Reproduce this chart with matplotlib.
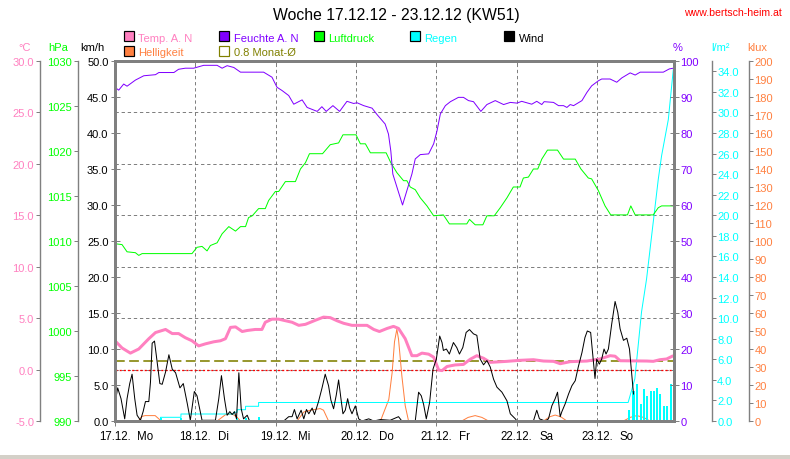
import matplotlib
matplotlib.use('Agg')
import matplotlib.pyplot as plt
import matplotlib.transforms as mtransforms
from matplotlib.patches import Rectangle

plt.rcParams['font.family'] = ['Liberation Sans', 'DejaVu Sans']
plt.rcParams['lines.scale_dashes'] = False

# ---------------- data (time in hours since 17.12. 00:00) ----------------
day_labels = ['17.12.', '18.12.', '19.12.', '20.12.', '21.12.', '22.12.', '23.12.']
weekday_labels = ['Mo', 'Di', 'Mi', 'Do', 'Fr', 'Sa', 'So']
day_hours = [0, 24, 48, 72, 96, 120, 144]

hum_h = [0, 1.1, 2.6, 3.6, 6.1, 8.6, 12.1, 13.1, 17.6, 19.0, 21.0, 23.5, 26.5, 30.5, 32.0, 33.5, 35.5,
         37.5, 44.4, 46.9, 48.4, 49.9, 51.9, 53.4, 55.9, 57.4, 60.4, 61.8, 63.1, 65.1, 67.1, 69.3, 71.3,
         72.3, 74.3, 76.8, 78.3, 80.7, 81.7, 82.4, 83.0, 85.9, 88.7, 89.7, 91.2, 93.7, 95.2, 96.2, 97.2,
         98.7, 100.2, 102.6, 104.1, 105.6, 107.1, 109.3, 111.1, 113.6, 116.1, 118.1, 120.1, 121.5, 124.5,
         126.0, 127.5, 128.2, 131.0, 132.5, 134.0, 135.0, 136.0, 137.0, 139.5, 141.0, 142.4, 144.4, 145.4,
         147.9, 149.9, 151.4, 153.9, 155.4, 156.9, 163.8, 165.6, 166.8]
hum = [92.7, 91.9, 93.6, 93.0, 94.7, 95.9, 96.2, 96.8, 96.8, 97.7, 98.0, 98.0, 98.8, 98.8, 98.0, 98.7, 98.2,
       96.9, 96.9, 95.5, 92.7, 91.8, 90.4, 88.0, 89.2, 87.1, 86.0, 87.3, 86.0, 87.6, 86.0, 88.8, 88.2,
       88.4, 87.6, 86.9, 85.1, 82.5, 79.7, 75.0, 68.6, 60.0, 68.6, 72.8, 74.0, 74.2, 77.0, 80.6, 85.3,
       87.6, 88.7, 89.9, 89.9, 89.0, 88.7, 86.0, 87.9, 89.0, 87.9, 88.5, 88.3, 88.8, 88.0,
       88.8, 87.9, 88.7, 88.5, 87.6, 87.6, 87.1, 87.9, 87.6, 89.0, 91.3, 93.1, 94.5, 95.0,
       95.0, 94.1, 95.3, 96.7, 96.1, 96.9, 96.9, 97.8, 98.0]

pres_h = [0, 2.1, 3.6, 6.1, 7.1, 8.1, 9.6, 23.0, 24.5, 26.0, 27.5, 28.5, 30.5, 32.0, 34.0, 36.0, 37.5, 39.0,
          39.9, 41.0, 42.9, 44.9, 45.9, 47.9, 48.9, 50.9, 53.9, 55.4, 56.9, 58.1, 62.0, 64.3, 66.8, 68.1,
          72.0, 73.3, 74.8, 76.3, 81.0, 82.4, 84.2, 86.2, 87.2, 88.2, 89.7, 91.2, 93.2, 95.2, 98.1, 99.9,
          105.1, 105.9, 107.6, 109.9, 111.1, 113.3, 115.1, 117.1, 119.0, 121.0, 122.0, 123.5, 125.0, 126.3,
          127.5, 129.2, 132.2, 134.0, 137.5, 139.2, 141.4, 142.4, 144.4, 146.4, 148.1, 153.1, 154.1, 155.4,
          160.8, 162.3, 163.3, 166.8]
pres = [1009.7, 1009.6, 1008.8, 1008.7, 1008.4, 1008.6, 1008.6, 1008.6, 1009.3, 1009.4, 1008.9, 1009.5,
        1009.8, 1010.8, 1011.6, 1011.1, 1011.6, 1011.6, 1012.6, 1012.8, 1013.6, 1013.6, 1014.5, 1015.5,
        1015.5, 1016.6, 1016.6, 1018.0, 1018.7, 1019.7, 1019.7, 1020.7, 1020.9, 1021.8, 1021.8, 1020.8,
        1020.8, 1019.8, 1019.8, 1018.7, 1017.6, 1016.7, 1016.7, 1016.0, 1015.7, 1014.8, 1013.9, 1012.8,
        1012.9, 1011.9, 1011.9, 1012.4, 1011.8, 1011.8, 1012.8, 1012.8, 1013.7, 1014.8, 1016.0, 1016.0,
        1017.0, 1017.1, 1018.0, 1018.0, 1019.1, 1020.1, 1020.1, 1019.1, 1019.1, 1018.0, 1017.0, 1016.9,
        1015.6, 1013.9, 1012.9, 1012.9, 1013.9, 1012.9, 1012.9, 1013.7, 1013.9, 1013.9]

temp_h = [0, 2.1, 4.6, 7.1, 10.1, 12.1, 15.1, 17.1, 19.0, 21.0, 23.0, 25.0, 27.0, 29.5, 31.5, 33.0, 34.5,
          36.0, 38.0, 39.5, 41.9, 43.9, 44.9, 46.9, 48.9, 50.9, 52.9, 54.9, 56.9, 59.9, 62.3, 64.3, 66.3,
          68.3, 70.8, 75.3, 77.3, 79.0, 81.3, 83.2, 84.7, 86.7, 88.7, 90.2, 91.7, 93.7, 95.2, 96.7, 97.7,
          99.2, 101.6, 104.1, 106.1, 108.1, 110.1, 112.1, 117.1, 121.0, 125.0, 128.0, 131.0, 133.0, 136.0,
          141.0, 144.9, 147.9, 149.4, 150.9, 158.9, 160.8, 162.8, 164.8, 166.8]
temp = [2.8, 2.1, 1.6, 2.0, 3.0, 3.6, 3.9, 3.5, 3.5, 3.1, 2.8, 2.3, 2.5, 2.7, 2.8, 3.0, 4.1,
        4.15, 3.7, 3.8, 3.9, 3.9, 4.6, 4.9, 4.9, 4.75, 4.6, 4.3, 4.4, 4.8, 5.1, 5.05, 4.75,
        4.5, 4.3, 4.3, 3.9, 3.7, 4.0, 4.2, 4.0, 3.0, 1.35, 1.35, 1.6, 1.5, 1.2, -0.05, -0.1,
        0.3, 0.45, 0.5, 1.0, 1.35, 1.1, 0.7, 0.8, 0.9, 0.96, 0.83, 0.8, 0.57, 0.77,
        0.83, 1.03, 1.35, 1.3, 0.86, 0.83, 0.8, 0.96, 1.03, 1.35]

wind_h = [0, 0.8, 1.8, 2.9, 3.6, 4.4, 5.1, 5.9, 6.6, 7.6, 8.4, 9.1, 10.1, 10.6, 11.1, 11.8, 12.4, 13.4,
          14.1, 15.1, 16.1, 17.1, 18.1, 19.4, 20.4, 21.6, 22.5, 23.7, 24.5, 26.0, 30.0, 31.0, 31.8, 32.7,
          33.5, 34.3, 35.0, 35.7, 36.3, 37.0, 37.7, 38.4, 39.5, 40.2, 50.4, 51.9, 52.9, 53.6, 54.4, 55.6,
          56.4, 57.2, 57.9, 58.9, 59.6, 60.8, 61.8, 62.8, 63.8, 64.5, 65.3, 66.1, 66.8, 67.5, 68.1, 68.8,
          69.5, 70.1, 70.8, 71.8, 72.8, 73.8, 75.8, 77.3, 79.3, 82.2, 84.7, 85.7, 89.7, 90.7, 91.5, 92.2,
          93.0, 94.0, 95.0, 96.0, 97.0, 97.7, 98.1, 99.0, 99.9, 101.1, 102.1, 102.9, 103.9, 104.9, 105.9,
          107.1, 108.1, 109.1, 110.1, 111.1, 112.1, 113.1, 114.1, 115.6, 117.1, 118.1, 119.6, 120.1, 125.0,
          126.0, 126.8, 128.5, 129.5, 130.5, 131.5, 132.2, 133.0, 133.5, 134.5, 135.5, 136.5, 137.5, 138.4,
          139.5, 140.4, 141.1, 142.1, 142.7, 143.4, 143.9, 144.7, 145.4, 146.1, 146.7, 147.4, 148.4, 149.4,
          150.2, 150.9, 151.9, 152.9, 153.7, 154.4, 154.9]
wind = [2.4, 4.6, 3.1, 0.3, 3.1, 5.2, 6.5, 3.1, 0.8, 0.1, 1.3, 2.7, 2.7, 5.4, 10.8, 11.1, 8.9, 5.2,
        5.1, 6.8, 9.2, 7.2, 6.7, 4.6, 5.2, 2.4, 0.1, 4.1, 3.5, 0.1, 0.1, 3.1, 6.3, 3.1,
        0.8, 1.3, 0.9, 1.3, 0.3, 6.7, 1.7, 0.3, 0.8, 0, 0, 0.6, 0.6, 1.6, 0.3, 1.5,
        0.3, 1.6, 1.0, 1.8, 0.9, 2.7, 4.5, 6.5, 4.9, 2.9, 1.7, 3.6, 5.7, 3.1, 1.0, 1.5,
        3.1, 1.8, 1.0, 2.1, 0.3, 0, 0.3, 0, 0.2, 0.1, 0.6, 0, 0, 4.0, 3.5, 2.3,
        0.3, 2.6, 7.2, 8.6, 11.8, 10.9, 9.8, 10.0, 9.3, 10.9, 10.2, 9.3, 10.2, 12.3, 12.7,
        12.1, 11.9, 8.6, 7.8, 8.4, 7.5, 5.8, 4.7, 4.0, 2.8, 1.0, 0.3, 0, 0,
        1.5, 0.3, 0, 0.3, 2.1, 3.1, 4.0, 0.6, 1.3, 2.4, 3.75, 4.9, 5.6, 7.5,
        9.5, 11.6, 12.5, 12.3, 9.3, 5.9, 8.6, 7.9, 8.6, 10.0, 9.3, 10.0, 13.5, 16.6,
        15.1, 12.8, 11.2, 11.5, 10.0, 6.3, 3.75]

lux_h = [0, 7.0, 8.0, 9.0, 12.0, 13.5, 14.0, 30.5, 33.0, 35.0, 36.5, 37.5, 54.4, 56.4, 58.4, 61.3, 62.3,
         63.8, 79.3, 81.8, 82.8, 83.5, 84.2, 84.7, 85.7, 86.7, 87.7, 103.6, 105.5, 107.6, 109.6, 111.6,
         128.0, 129.8, 131.5, 133.2, 135.0, 151.9, 153.9, 155.9, 157.9, 159.8, 166.8]
lux = [0, 0, 2.5, 3.0, 3.0, 0.5, 0, 0, 3.5, 4.0, 2.0, 0, 0, 5.0, 6.0, 6.9, 6.0,
       0, 0, 12, 27, 44, 51, 45.5, 25, 8.5, 0, 0, 2.0, 3.0, 2.0, 0,
       0, 2.3, 3.3, 2.3, 0, 0, 2.0, 3.0, 2.0, 0, 0]

rain_sum_h = [0, 13.6, 13.6, 19.7, 19.7, 35.5, 35.5, 36.5, 36.5, 39.0, 39.0, 42.9, 42.9, 153.3, 155.3,
              157.3, 158.8, 162.3, 163.3, 165.3, 166.8]
rain_sum = [0, 0, 0.36, 0.36, 0.68, 0.68, 0.85, 0.85, 1.1, 1.1, 1.43, 1.43, 1.8, 1.8, 4.1,
            10.6, 13.8, 23.5, 25.8, 29.3, 34.2]

rain_bar_h = [13.6, 19.7, 36.5, 39.0, 42.9, 153.7, 154.9, 156.0, 157.1, 158.1, 159.0, 160.2, 161.1,
              162.0, 162.8, 164.1, 164.9, 166.0]
rain_bar = [0.3, 0.3, 0.25, 0.3, 0.35, 1.1, 2.9, 3.6, 1.65, 3.1, 2.4, 2.9, 2.9, 3.2, 2.6, 1.5, 1.5, 3.6]

temp_month_avg = 0.8
frost_line = 0.0

legend_labels = ['Temp. A. N', 'Feuchte A. N', 'Luftdruck', 'Regen', 'Wind', 'Helligkeit', '0.8 Monat-Ø']

# ---------------- style ----------------
C_TEMP = '#FF80C0'
C_HUM = '#8000FF'
C_PRES = '#00FF00'
C_RAIN = '#00FFFF'
C_WIND = '#000000'
C_LUX = '#FF8040'
C_AVG = '#808000'
C_GRID = '#808080'

W, H, DPI = 790, 460, 100
PT = 72.0 / DPI

fig = plt.figure(figsize=(W / DPI, H / DPI), dpi=DPI)
fig.patch.set_facecolor('white')
L, R, T, B = 115, 674, 62, 422
rect = [L / W, 1 - B / H, (R - L) / W, (B - T) / H]
px = mtransforms.Affine2D().scale(1.0 / W, -1.0 / H).translate(0, 1) + fig.transFigure

ax_g = fig.add_axes(rect)
ax_lux = ax_g.twinx()
ax_rain = ax_g.twinx()
ax_p = ax_g.twinx()
ax_h = ax_g.twinx()
ax_t = ax_g.twinx()
ax_w = ax_g.twinx()

ax_g.set_xlim(0, 167.0)


def style_y(ax, side, offset_px, lim, ticks, labels, color, direction='out', length_px=4.0, pad_px=2.0):
    for s in ax.spines.values():
        s.set_visible(False)
    ax.set_ylim(*lim)
    ax.set_yticks(ticks)
    ax.set_yticklabels(labels)
    if side == 'left':
        ax.yaxis.tick_left()
    else:
        ax.yaxis.tick_right()
    if offset_px is not None:
        sp = ax.spines[side]
        sp.set_visible(True)
        sp.set_position(('outward', offset_px * PT))
        sp.set_color(C_GRID)
        sp.set_linewidth(1.4 * PT)
    ax.tick_params(axis='y', which='major', direction=direction, length=length_px * PT, width=1.0 * PT,
                   color=C_GRID, labelcolor=color, labelsize=8, pad=pad_px * PT)


def frange(a, b, s):
    out = []
    v = a
    while v <= b + 1e-9:
        out.append(round(v, 6))
        v += s
    return out


t_ticks = frange(-5, 30, 5)
style_y(ax_g, 'left', 75, (-5, 30), t_ticks, ['%.1f' % v for v in t_ticks], C_TEMP, pad_px=2)
p_ticks = frange(990, 1030, 5)
style_y(ax_p, 'left', 37.5, (990, 1030), p_ticks, ['%d' % v for v in p_ticks], C_PRES, pad_px=1.5)
r_ticks = frange(0, 34, 2)
style_y(ax_rain, 'right', 37.7, (0, 35), r_ticks, ['%.1f' % v for v in r_ticks], C_RAIN, pad_px=1.5)
l_ticks = frange(0, 200, 10)
style_y(ax_lux, 'right', 75, (0, 200), l_ticks, ['%d' % v for v in l_ticks], C_LUX, pad_px=1.3)
h_ticks = frange(0, 100, 10)
style_y(ax_h, 'right', None, (0, 100), h_ticks, ['%d' % v for v in h_ticks], C_HUM,
        direction='inout', length_px=9, pad_px=2)
w_ticks = frange(0, 50, 5)
style_y(ax_w, 'left', None, (0, 50), w_ticks, ['%.1f' % v for v in w_ticks], C_WIND,
        direction='inout', length_px=9, pad_px=2)
for s in ax_t.spines.values():
    s.set_visible(False)
ax_t.set_ylim(-5, 30)
ax_t.yaxis.set_visible(False)

# frame on top-most axes
for s in ax_w.spines.values():
    s.set_visible(True)
    s.set_color(C_GRID)
    s.set_linewidth(3 * PT)

# x ticks & grid on base axes
ax_g.set_xticks(day_hours)
ax_g.set_xticklabels([])
ax_g.tick_params(axis='x', direction='out', length=5 * PT, width=1 * PT, color=C_GRID)
ax_g.grid(True, color=C_GRID, linestyle=(0, (2.4, 2.0)), linewidth=1.0 * PT)
ax_g.set_axisbelow(True)

ax_w.xaxis.set_visible(True)
ax_w.tick_params(axis='x', bottom=False, top=True, labelbottom=False, labeltop=False,
                 direction='in', length=5 * PT, width=1 * PT, color=C_GRID)

# reference lines (°C scale)
ax_g.axhline(frost_line, color='#FF0000', linestyle=(0, (1.5, 1.5)), linewidth=1.3 * PT, zorder=1.5)
ax_g.axhline(temp_month_avg, color=C_AVG, linestyle=(0, (7.0, 3.2)), linewidth=1.6 * PT, zorder=1.6)

# data
ax_lux.plot(lux_h, lux, color=C_LUX, linewidth=1.0 * PT)
ax_rain.bar(rain_bar_h, rain_bar, width=0.6, color=C_RAIN, linewidth=0)
ax_rain.plot(rain_sum_h, rain_sum, color=C_RAIN, linewidth=1.0 * PT)
ax_p.plot(pres_h, pres, color=C_PRES, linewidth=1.0 * PT)
ax_h.plot(hum_h, hum, color=C_HUM, linewidth=1.0 * PT)
ax_t.plot(temp_h, temp, color=C_TEMP, linewidth=3.0 * PT, solid_capstyle='butt')
ax_w.plot(wind_h, wind, color=C_WIND, linewidth=1.0 * PT)

# x labels: date centered on tick, weekday to the right
lab_tr = mtransforms.blended_transform_factory(ax_w.transData, px)
wd_tr = mtransforms.offset_copy(lab_tr, fig=fig, x=22.5 * PT, y=0, units='points')
for hh, d, wd in zip(day_hours, day_labels, weekday_labels):
    fig.text(hh, 440, d, transform=lab_tr, ha='center', va='baseline', fontsize=8.3, color='black')
    fig.text(hh, 440, wd, transform=wd_tr, ha='left', va='baseline', fontsize=8.3, color='black')

# title & url
fig.text(396.5, 20, 'Woche 17.12.12 - 23.12.12 (KW51)', transform=px, ha='center', va='baseline',
         fontsize=11.3, color='black')
fig.text(782, 16, 'www.bertsch-heim.at', transform=px, ha='right', va='baseline', fontsize=7.6,
         color='#FF0000')

# unit labels
units = [('°C', 25, C_TEMP), ('hPa', 58, C_PRES), ('km/h', 92, C_WIND),
         ('%', 678, C_HUM), ('l/m²', 721, C_RAIN), ('klux', 757.5, C_LUX)]
for txt, xx, col in units:
    fig.text(xx, 51, txt, transform=px, ha='center', va='baseline', fontsize=8, color=col)

# legend
leg_pos = [(124, 0), (219, 0), (314, 0), (410, 0), (504, 0), (124, 1), (219, 1)]
leg_fill = [C_TEMP, C_HUM, C_PRES, C_RAIN, C_WIND, C_LUX, None]
leg_text_col = [C_TEMP, C_HUM, C_PRES, C_RAIN, C_WIND, C_LUX, C_AVG]
for (xx, row), lab, fc, tc in zip(leg_pos, legend_labels, leg_fill, leg_text_col):
    top = 32 + row * 14.5
    if fc is None:
        patch = Rectangle((xx, top + 10), 10, -10, transform=px, facecolor='none', edgecolor=C_AVG,
                          linewidth=1.2 * PT)
    else:
        patch = Rectangle((xx, top + 10), 10, -10, transform=px, facecolor=fc, edgecolor='black',
                          linewidth=1.2 * PT)
    fig.patches.append(patch)
    fig.text(xx + 14.5, top + 9.6, lab, transform=px, ha='left', va='baseline', fontsize=8, color=tc)

# status bar at the very bottom
fig.patches.append(Rectangle((0, 460), 790, -4, transform=px, facecolor='#D4D0C8', edgecolor='none'))

fig.savefig('out.png', dpi=DPI, facecolor='white')
